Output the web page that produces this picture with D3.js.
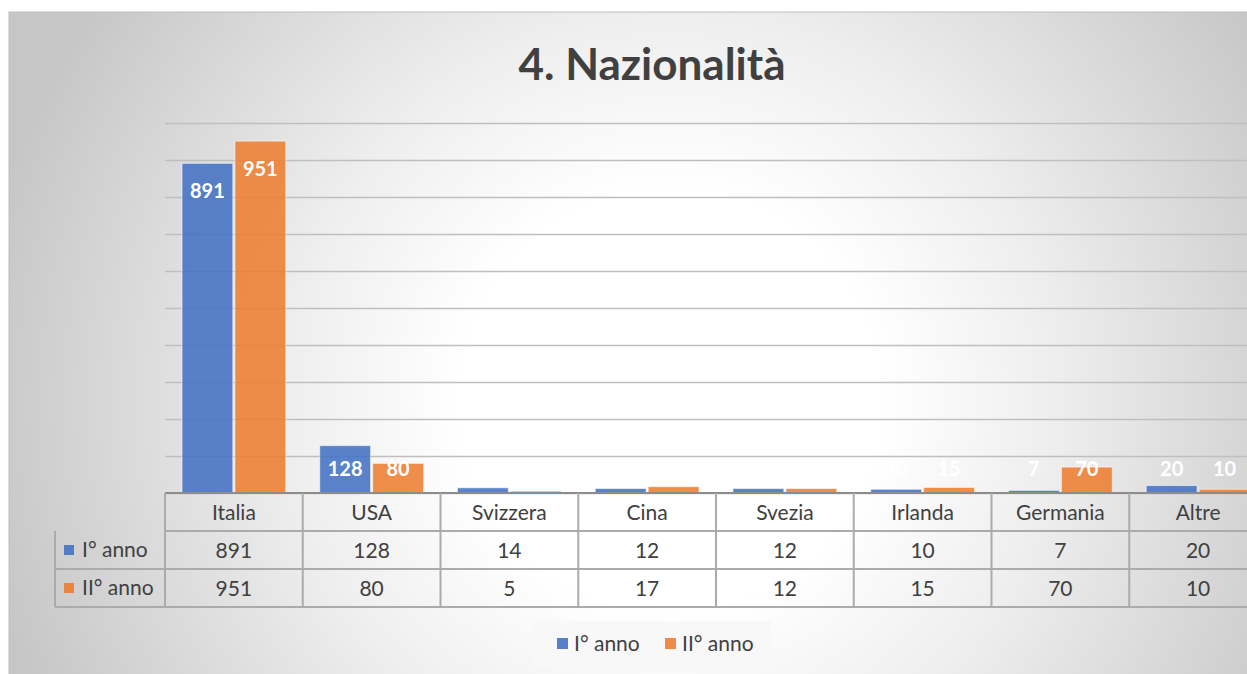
<!DOCTYPE html>
<html>
<head>
<meta charset="utf-8">
<script src="https://cdn.jsdelivr.net/npm/d3@7"></script>
<style>
  body { margin: 0; background: #fff; }
  svg { display: block; font-family: Lato, "Open Sans", sans-serif; }
</style>
</head>
<body>
<svg id="chart" width="1247" height="674"></svg>
<script>
const categories = ['Italia', 'USA', 'Svizzera', 'Cina', 'Svezia', 'Irlanda', 'Germania', 'Altre'];
const seriesNames = ['I° anno', 'II° anno'];
const primoAnno = [891, 128, 14, 12, 12, 10, 7, 20];
const secondoAnno = [951, 80, 5, 17, 12, 15, 70, 10];
const colors = ['#4472C4', '#ED7D31'];

const svg = d3.select('#chart');
const W = 1247, H = 674;
const D = { left: 165, right: 1267, top: 123, base: 493, rowH: 38, keyLeft: 55 };

// background with radial gradient (white centre, grey edges)
const defs = svg.append('defs');
const grad = defs.append('radialGradient').attr('id', 'bg')
  .attr('gradientUnits', 'userSpaceOnUse')
  .attr('cx', 670).attr('cy', 400).attr('r', 700);
grad.append('stop').attr('offset', 0).attr('stop-color', '#ffffff');
grad.append('stop').attr('offset', 0.3).attr('stop-color', '#ffffff');
grad.append('stop').attr('offset', 0.55).attr('stop-color', '#eeeeee');
grad.append('stop').attr('offset', 1).attr('stop-color', '#c6c6c6');

svg.append('rect').attr('x', 9).attr('y', 12).attr('width', W).attr('height', H)
  .attr('fill', 'url(#bg)').attr('stroke', '#bdbdbd').attr('stroke-width', 1);

svg.append('text')
  .attr('x', 652).attr('y', 80)
  .attr('text-anchor', 'middle')
  .attr('font-size', 44).attr('font-weight', 'bold').attr('fill', '#404040')
  .text('4. Nazionalità');

const x0 = d3.scaleBand().domain(categories).range([D.left, D.right]);
const x1 = d3.scaleBand().domain(seriesNames).range([17, x0.bandwidth() - 17]).paddingInner(0.04);
const y = d3.scaleLinear().domain([0, 1000]).range([D.base, D.top]);

// gridlines
const grid = svg.append('g')
  .attr('transform', `translate(${D.left},0)`)
  .call(d3.axisLeft(y).ticks(10).tickSize(-(D.right - D.left)).tickFormat(''));
grid.select('.domain').remove();
grid.selectAll('line').attr('stroke', '#bfbfbf').attr('stroke-width', 1.5);

const data = categories.map((c, i) => ({ cat: c, vals: [primoAnno[i], secondoAnno[i]] }));

const groups = svg.selectAll('.grp').data(data).join('g')
  .attr('class', 'grp')
  .attr('transform', d => `translate(${x0(d.cat)},0)`);

groups.selectAll('rect').data(d => d.vals.map((v, k) => ({ v, k })))
  .join('rect')
  .attr('x', d => x1(seriesNames[d.k]))
  .attr('y', d => y(d.v))
  .attr('width', x1.bandwidth())
  .attr('height', d => y(0) - y(d.v))
  .attr('fill', d => colors[d.k])
  .attr('fill-opacity', 0.88)
  .attr('stroke', 'rgba(255,255,255,0.55)')
  .attr('stroke-width', 1);

groups.selectAll('text.lbl').data(d => d.vals.map((v, k) => ({ v, k })))
  .join('text')
  .attr('class', 'lbl')
  .attr('x', d => x1(seriesNames[d.k]) + x1.bandwidth() / 2)
  .attr('y', d => Math.min(y(d.v) + 35, 476))
  .attr('text-anchor', 'middle')
  .attr('font-size', 20).attr('font-weight', 'bold').attr('fill', '#ffffff')
  .text(d => d.v);

// baseline
svg.append('line').attr('x1', D.left).attr('x2', D.right)
  .attr('y1', D.base).attr('y2', D.base)
  .attr('stroke', '#8c8c8c').attr('stroke-width', 2);

// data table
const tbl = svg.append('g');
const lineCol = '#ababab';
const tb = D.base, r1 = tb + D.rowH, r2 = r1 + D.rowH, r3 = r2 + D.rowH;
[[D.left, r1], [D.keyLeft, r2], [D.keyLeft, r3]].forEach(([x, yy]) => {
  tbl.append('line').attr('x1', x).attr('x2', D.right).attr('y1', yy).attr('y2', yy)
    .attr('stroke', lineCol).attr('stroke-width', 2);
});
tbl.append('line').attr('x1', D.keyLeft).attr('x2', D.keyLeft).attr('y1', r1).attr('y2', r3)
  .attr('stroke', lineCol).attr('stroke-width', 2);
categories.forEach(c => {
  tbl.append('line').attr('x1', x0(c)).attr('x2', x0(c)).attr('y1', tb).attr('y2', r3)
    .attr('stroke', lineCol).attr('stroke-width', 2);
});

tbl.selectAll('text.hdr').data(categories).join('text')
  .attr('class', 'hdr')
  .attr('x', d => x0(d) + x0.bandwidth() / 2).attr('y', tb + 27)
  .attr('text-anchor', 'middle').attr('font-size', 21).attr('fill', '#404040')
  .text(d => d);

[primoAnno, secondoAnno].forEach((vals, k) => {
  const rowTop = r1 + k * D.rowH;
  tbl.selectAll(`text.v${k}`).data(vals).join('text')
    .attr('class', `v${k}`)
    .attr('x', (d, i) => x0(categories[i]) + x0.bandwidth() / 2).attr('y', rowTop + 27)
    .attr('text-anchor', 'middle').attr('font-size', 21).attr('fill', '#404040')
    .text(d => d);
  tbl.append('rect').attr('x', 64).attr('y', rowTop + 14).attr('width', 10).attr('height', 10)
    .attr('fill', colors[k]).attr('fill-opacity', 0.9);
  tbl.append('text').attr('x', 82).attr('y', rowTop + 26)
    .attr('font-size', 21).attr('fill', '#404040').text(seriesNames[k]);
});

// legend
const lg = svg.append('g');
lg.append('rect').attr('x', 533).attr('y', 621).attr('width', 238).attr('height', 47)
  .attr('fill', '#f8f8f8');
const legendX = [557, 665];
seriesNames.forEach((s, k) => {
  lg.append('rect').attr('x', legendX[k]).attr('y', 638).attr('width', 11).attr('height', 11)
    .attr('fill', colors[k]).attr('fill-opacity', 0.9);
  lg.append('text').attr('x', legendX[k] + 17).attr('y', 651)
    .attr('font-size', 21).attr('fill', '#404040').text(s);
});
</script>
</body>
</html>
